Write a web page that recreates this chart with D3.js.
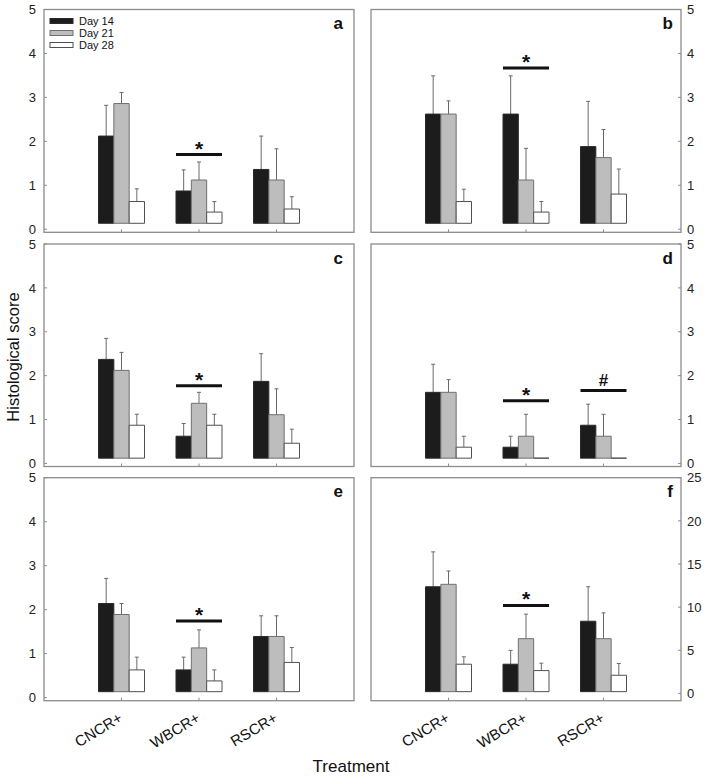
<!DOCTYPE html>
<html><head><meta charset="utf-8">
<script src="https://cdn.jsdelivr.net/npm/d3@7"></script>
<style>
body{margin:0;background:#fff}
svg{display:block}
text{font-family:Arial,"Liberation Sans",Helvetica,sans-serif}
</style>
</head><body>
<svg id="chart" width="709" height="779"></svg>
<script>
// ---------- data ----------
const categories = ["CNCR+", "WBCR+", "RSCR+"];
const days = ["Day 14", "Day 21", "Day 28"];
const panelLetters = ["a", "b", "c", "d", "e", "f"];

// bar tops per category: [Day 14, Day 21, Day 28]
const meanA = [[2.12, 2.86, 0.63], [0.87, 1.12, 0.39], [1.36, 1.12, 0.46]];
const errA  = [[2.82, 3.11, 0.92], [1.35, 1.53, 0.63], [2.12, 1.83, 0.74]];
const meanB = [[2.62, 2.62, 0.63], [2.62, 1.12, 0.39], [1.88, 1.63, 0.80]];
const errB  = [[3.49, 2.92, 0.91], [3.49, 1.84, 0.63], [2.91, 2.27, 1.37]];
const meanC = [[2.37, 2.12, 0.87], [0.62, 1.37, 0.87], [1.87, 1.11, 0.46]];
const errC  = [[2.85, 2.53, 1.12], [0.91, 1.62, 1.12], [2.50, 1.70, 0.78]];
const meanD = [[1.62, 1.62, 0.37], [0.37, 0.62, 0.12], [0.87, 0.62, 0.12]];
const errD  = [[2.26, 1.91, 0.62], [0.62, 1.12, null], [1.35, 1.12, null]];
const meanE = [[2.14, 1.89, 0.63], [0.63, 1.13, 0.38], [1.39, 1.39, 0.80]];
const errE  = [[2.71, 2.14, 0.92], [0.92, 1.54, 0.63], [1.86, 1.86, 1.14]];
const meanF = [[12.36, 12.64, 3.38], [3.38, 6.34, 2.64], [8.36, 6.34, 2.10]];
const errF  = [[16.4, 14.19, 4.24], [4.98, 9.18, 3.50], [12.36, 9.33, 3.46]];

// bar baseline value per panel
const baseValues = [0.135, 0.135, 0.12, 0.12, 0.135, 0.2];
// y-axis domain per panel
const yMax = [5, 5, 5, 5, 5, 25];
const yMin = [-0.07, -0.07, -0.07, -0.07, -0.07, -0.85];
const yTicksSmall = [0, 1, 2, 3, 4, 5];
const yTicksLarge = [0, 5, 10, 15, 20, 25];

// significance markers: [category, y value, symbol]
const sigA = [["WBCR+", 1.70, "*"]];
const sigB = [["WBCR+", 3.67, "*"]];
const sigC = [["WBCR+", 1.77, "*"]];
const sigD = [["WBCR+", 1.43, "*"], ["RSCR+", 1.66, "#"]];
const sigE = [["WBCR+", 1.74, "*"]];
const sigF = [["WBCR+", 10.2, "*"]];

const means = [meanA, meanB, meanC, meanD, meanE, meanF];
const errs = [errA, errB, errC, errD, errE, errF];
const sigs = [sigA, sigB, sigC, sigD, sigE, sigF];

// ---------- styles ----------
const fills = {"Day 14": "#1c1c1c", "Day 21": "#bdbdbd", "Day 28": "#ffffff"};
const strokes = {"Day 14": "#2a2a2a", "Day 21": "#707070", "Day 28": "#505050"};
const frameColor = "#8c8c8c";

// ---------- layout ----------
const colX = [[44, 354], [371, 681]];
const rowY = [[9.5, 232.3], [244, 466.5], [477.7, 700.7]];

const svg = d3.select("#chart");

panelLetters.forEach((letter, pi) => {
  const col = pi % 2, row = Math.floor(pi / 2);
  const [x0, x1] = colX[col];
  const [y0, y1] = rowY[row];
  const g = svg.append("g");

  const x = d3.scaleLinear().domain([0, categories.length + 1]).range([x0, x1]);
  const sub = d3.scaleBand().domain(days).range([-23, 23]).padding(0);
  const y = d3.scaleLinear().domain([yMin[pi], yMax[pi]]).range([y1, y0]);
  const base = baseValues[pi];

  // bars
  categories.forEach((cat, ci) => {
    const cx = x(ci + 1);
    days.forEach((day, di) => {
      const v = means[pi][ci][di];
      const bx = cx + sub(day);
      const bw = sub.bandwidth();
      const yb = y(base), yt = y(v);
      const e = errs[pi][ci][di];
      if (e != null) {
        g.append("line")
          .attr("x1", bx + bw / 2).attr("x2", bx + bw / 2)
          .attr("y1", yt).attr("y2", y(e))
          .attr("stroke", "#6a6a6a").attr("stroke-width", 1);
        g.append("line")
          .attr("x1", bx + bw / 2 - 2).attr("x2", bx + bw / 2 + 2)
          .attr("y1", y(e)).attr("y2", y(e))
          .attr("stroke", "#6a6a6a").attr("stroke-width", 1);
      }
      g.append("path")
        .attr("d", `M${bx},${yb}H${bx + bw}V${yt}H${bx}Z`)
        .attr("fill", fills[day])
        .attr("stroke", strokes[day])
        .attr("stroke-width", 1);
    });
  });

  // significance markers
  sigs[pi].forEach(([cat, val, sym]) => {
    const ci = categories.indexOf(cat);
    const cx = x(ci + 1);
    const ly = y(val);
    g.append("line")
      .attr("x1", cx + sub.range()[0]).attr("x2", cx + sub.range()[1])
      .attr("y1", ly).attr("y2", ly)
      .attr("stroke", "#111").attr("stroke-width", 3);
    g.append("text")
      .attr("x", cx).attr("y", sym === "*" ? ly + 1 : ly - 5)
      .attr("text-anchor", "middle")
      .attr("font-size", sym === "*" ? 21 : 17)
      .attr("font-weight", "bold")
      .attr("fill", "#111")
      .text(sym);
  });

  // y ticks
  const ticks = yMax[pi] === 25 ? yTicksLarge : yTicksSmall;
  ticks.forEach(t => {
    const ty = y(t);
    const edge = col === 0 ? x0 : x1;
    const dir = col === 0 ? 1 : -1;
    g.append("line")
      .attr("x1", edge).attr("x2", edge + dir * 3)
      .attr("y1", ty).attr("y2", ty)
      .attr("stroke", frameColor).attr("stroke-width", 1);
    g.append("text")
      .attr("x", col === 0 ? x0 - 8 : x1 + 6)
      .attr("y", ty)
      .attr("dy", "0.36em")
      .attr("text-anchor", col === 0 ? "end" : "start")
      .attr("font-size", 13)
      .attr("fill", "#222")
      .text(t);
  });

  // x ticks
  categories.forEach((cat, ci) => {
    g.append("line")
      .attr("x1", x(ci + 1)).attr("x2", x(ci + 1))
      .attr("y1", y1).attr("y2", y1 - 3)
      .attr("stroke", frameColor).attr("stroke-width", 1);
    if (row === 2) {
      g.append("text")
        .attr("transform", `translate(${x(ci + 1) + 2},${y1 + 20}) rotate(-31)`)
        .attr("text-anchor", "end")
        .attr("font-size", 15)
        .attr("fill", "#111")
        .text(cat);
    }
  });

  // frame
  g.append("rect")
    .attr("x", x0).attr("y", y0)
    .attr("width", x1 - x0).attr("height", y1 - y0)
    .attr("fill", "none")
    .attr("stroke", frameColor).attr("stroke-width", 1.3);

  // panel letter
  g.append("text")
    .attr("x", col === 0 ? x1 - 11 : x1 - 8)
    .attr("y", y0 + 19.5)
    .attr("text-anchor", "end")
    .attr("font-size", 17)
    .attr("font-weight", "bold")
    .attr("fill", "#111")
    .text(letter);

  // legend (panel a only)
  if (pi === 0) {
    days.forEach((day, di) => {
      const ly = y0 + 11.5 + di * 12;
      g.append("rect")
        .attr("x", 50).attr("y", ly - 2.5)
        .attr("width", 23).attr("height", 5)
        .attr("fill", fills[day]).attr("stroke", strokes[day]).attr("stroke-width", 1);
      g.append("text")
        .attr("x", 79).attr("y", ly + 4)
        .attr("font-size", 11)
        .attr("fill", "#111")
        .text(day);
    });
  }
});

// axis titles
svg.append("text")
  .attr("transform", "translate(19,357) rotate(-90)")
  .attr("text-anchor", "middle")
  .attr("font-size", 16.5)
  .attr("fill", "#111")
  .text("Histological score");

svg.append("text")
  .attr("x", 351).attr("y", 771.5)
  .attr("text-anchor", "middle")
  .attr("font-size", 17)
  .attr("fill", "#111")
  .text("Treatment");
</script>
</body></html>
